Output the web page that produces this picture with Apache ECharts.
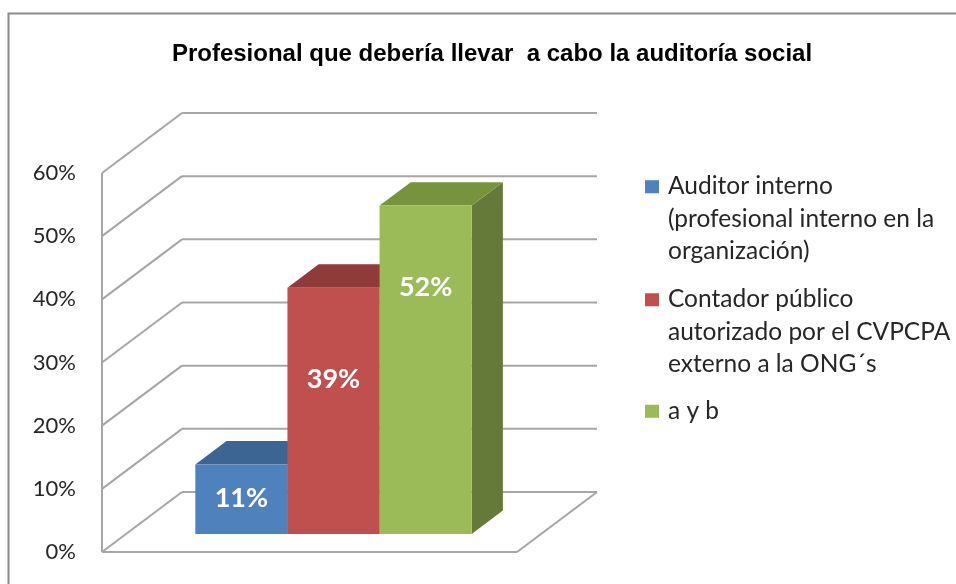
<!DOCTYPE html>
<html>
<head>
<meta charset="utf-8">
<script src="https://cdn.jsdelivr.net/npm/echarts@6/dist/echarts.min.js"></script>
<style>
  html, body { margin: 0; padding: 0; background: #fff; }
  #main { width: 956px; height: 584px; }
</style>
</head>
<body>
<div id="main"></div>
<script>
// data
const seriesNames = [
  'Auditor interno\n(profesional interno en la\norganización)',
  'Contador público\nautorizado por el CVPCPA\nexterno a la ONG´s',
  'a y b'
];
const seriesValues = [11, 39, 52];
const valueLabels = ['11%', '39%', '52%'];
const yTicks = [0, 10, 20, 30, 40, 50, 60];

// 3d look
const DX = 80, DY = -60;          // depth of the floor / walls
const F1 = 0.30, F2 = 0.69;       // bar front / back as part of depth
const BAR_FRAC = 0.222;           // bar width / category band
const frontColors = ['#4F81BD', '#C0504D', '#9BBB59'];
const topColors = ['#3C6594', '#8E3B39', '#77933C'];
const sideColors = ['#385D89', '#7E3431', '#657A38'];
const labelDrop = [34, 92, 82];   // label below bar top, px
const FONT = 'Lato, "Noto Sans", sans-serif';

const chart = echarts.init(document.getElementById('main'));

function renderWall(params, api) {
  const cs = params.coordSys;
  const v = api.value(1);
  const p = api.coord([0, v]);
  const L = cs.x, R = cs.x + cs.width, y = p[1];
  const line = (x1, y1, x2, y2) => ({
    type: 'line',
    shape: { x1, y1, x2, y2 },
    style: { stroke: '#A6A6A6', lineWidth: 2 }
  });
  const children = [
    line(L, y, L + DX, y + DY),
    line(L + DX, y + DY, R + DX, y + DY)
  ];
  if (v === 0) {
    const top = api.coord([0, yTicks[yTicks.length - 1]]);
    children.push(line(L, y, R, y));
    children.push(line(R, y, R + DX, y + DY));
    children.push(line(L, y, L, top[1]));
  }
  return { type: 'group', children };
}

function renderBar(i, params, api) {
  const base = api.coord([0, 0]);
  const top = api.coord([0, api.value(1)]);
  const bw = api.size([1, 0])[0] * BAR_FRAC;
  const x0 = base[0] + (i - 1.5) * bw + DX * F1;
  const x1 = x0 + bw;
  const yb = base[1] + DY * F1;
  const yt = top[1] + DY * F1;
  const ddx = DX * (F2 - F1), ddy = DY * (F2 - F1);
  return {
    type: 'group',
    children: [
      {
        type: 'polygon',
        shape: { points: [[x1, yt], [x1 + ddx, yt + ddy], [x1 + ddx, yb + ddy], [x1, yb]] },
        style: { fill: sideColors[i] }
      },
      {
        type: 'polygon',
        shape: { points: [[x0, yt], [x1, yt], [x1 + ddx, yt + ddy], [x0 + ddx, yt + ddy]] },
        style: { fill: topColors[i] }
      },
      {
        type: 'rect',
        shape: { x: x0, y: yt, width: bw, height: yb - yt },
        style: { fill: frontColors[i] }
      },
      {
        type: 'text',
        style: {
          text: valueLabels[i],
          x: (x0 + x1) / 2,
          y: yt + labelDrop[i],
          align: 'center',
          verticalAlign: 'middle',
          fill: '#fff',
          fontSize: 27,
          fontWeight: 'bold',
          fontFamily: FONT
        }
      }
    ]
  };
}

const tallIcon = 'path://M0,0h0.01v0.01h-0.01z M0,10h14v13h-14z M0,96.99h0.01v0.01h-0.01z';
const legendText = {
  fontSize: 24.5,
  lineHeight: 32.5,
  color: '#262626',
  fontFamily: FONT,
  padding: [0, 0, 0, 4]
};

const option = {
  animation: false,
  title: {
    text: 'Profesional que debería llevar  a cabo la auditoría social',
    left: 487,
    top: 37,
    textAlign: 'center',
    textStyle: {
      fontSize: 24,
      fontWeight: 'bold',
      color: '#000',
      fontFamily: '"Liberation Sans", Arial, sans-serif'
    }
  },
  graphic: [{
    type: 'rect',
    shape: { x: 8.5, y: 13.5, width: 1000, height: 700 },
    style: { fill: 'none', stroke: '#8A8A8A', lineWidth: 2 },
    silent: true
  }],
  legend: [
    {
      data: [seriesNames[0]], left: 645, top: 170, padding: 0, orient: 'vertical',
      itemWidth: 14, itemHeight: 97, icon: tallIcon, selectedMode: false,
      textStyle: legendText
    },
    {
      data: [seriesNames[1]], left: 645, top: 283, padding: 0, orient: 'vertical',
      itemWidth: 14, itemHeight: 97, icon: tallIcon, selectedMode: false,
      textStyle: legendText
    },
    {
      data: [seriesNames[2]], left: 645, top: 395, padding: 0, orient: 'vertical',
      itemWidth: 14, itemHeight: 13, icon: 'rect', selectedMode: false,
      textStyle: legendText
    }
  ],
  grid: { left: 102, top: 173, width: 415, height: 379 },
  xAxis: {
    type: 'category',
    data: [''],
    axisLine: { show: false },
    axisTick: { show: false },
    axisLabel: { show: false }
  },
  yAxis: {
    type: 'value',
    min: 0,
    max: 60,
    interval: 10,
    axisLine: { show: false },
    axisTick: { show: false },
    splitLine: { show: false },
    axisLabel: {
      formatter: '{value}%',
      fontSize: 22,
      color: '#262626',
      fontFamily: FONT,
      margin: 26
    }
  },
  series: [
    {
      type: 'custom',
      name: 'walls',
      silent: true,
      renderItem: renderWall,
      encode: { x: 0, y: 1 },
      data: yTicks.map(v => [0, v]),
      z: 1
    }
  ].concat(seriesNames.map((name, i) => ({
    type: 'custom',
    name,
    itemStyle: { color: frontColors[i] },
    renderItem: (params, api) => renderBar(i, params, api),
    encode: { x: 0, y: 1 },
    data: [[0, seriesValues[i]]],
    z: 2
  })))
};

chart.setOption(option);
</script>
</body>
</html>
